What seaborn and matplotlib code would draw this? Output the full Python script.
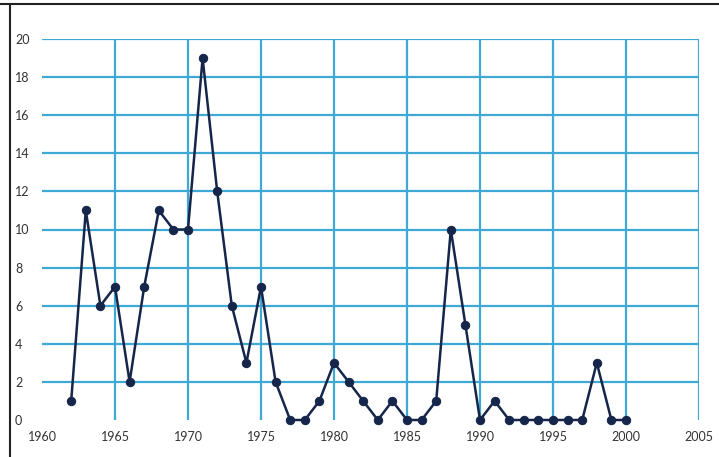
import matplotlib
matplotlib.use("Agg")
import matplotlib.pyplot as plt
from matplotlib.lines import Line2D
import seaborn as sns
import pandas as pd

years = list(range(1962, 2001))
counts = [1, 11, 6, 7, 2, 7, 11, 10, 10, 19, 12, 6, 3, 7, 2, 0, 0, 1, 3, 2,
          1, 0, 1, 0, 0, 1, 10, 5, 0, 1, 0, 0, 0, 0, 0, 0, 3, 0, 0]
x_ticks = list(range(1960, 2006, 5))
y_ticks = list(range(0, 21, 2))

df = pd.DataFrame({"year": years, "count": counts})

sns.set_style("white")
plt.rcParams["font.family"] = ["Lato", "DejaVu Sans"]

fig = plt.figure(figsize=(7.19, 4.57), dpi=100)
ax = fig.add_axes([42 / 719, 37 / 457, 657 / 719, 381 / 457])

grid_col = "#3fa9d6"
ax.hlines(y_ticks[1:], 1960, 2005, color=grid_col, lw=1.6, zorder=1)
ax.vlines(x_ticks[1:], 0, 20, color=grid_col, lw=1.6, zorder=1)

sns.lineplot(data=df, x="year", y="count", ax=ax, color="#15264a", lw=1.8,
             marker="o", markersize=6, markeredgecolor="#15264a", zorder=3,
             clip_on=False)

ax.set_xlim(1960, 2005)
ax.set_ylim(0, 20)
ax.set_xticks(x_ticks)
ax.set_yticks(y_ticks)
ax.tick_params(axis="both", length=0, labelsize=9, colors="#333333")
ax.tick_params(axis="y", pad=19.5)
ax.tick_params(axis="x", pad=8)
for lab in ax.get_yticklabels():
    lab.set_horizontalalignment("left")
ax.set_xlabel("")
ax.set_ylabel("")
for s in ax.spines.values():
    s.set_visible(False)
ax.patch.set_alpha(0)

# image frame lines (top and left)
fig.add_artist(Line2D([0, 1], [1 - 4 / 457, 1 - 4 / 457], color="#222222", lw=1.5))
fig.add_artist(Line2D([10 / 719, 10 / 719], [0, 1 - 4 / 457], color="#222222", lw=1.5))

fig.savefig("out.png", dpi=100)
